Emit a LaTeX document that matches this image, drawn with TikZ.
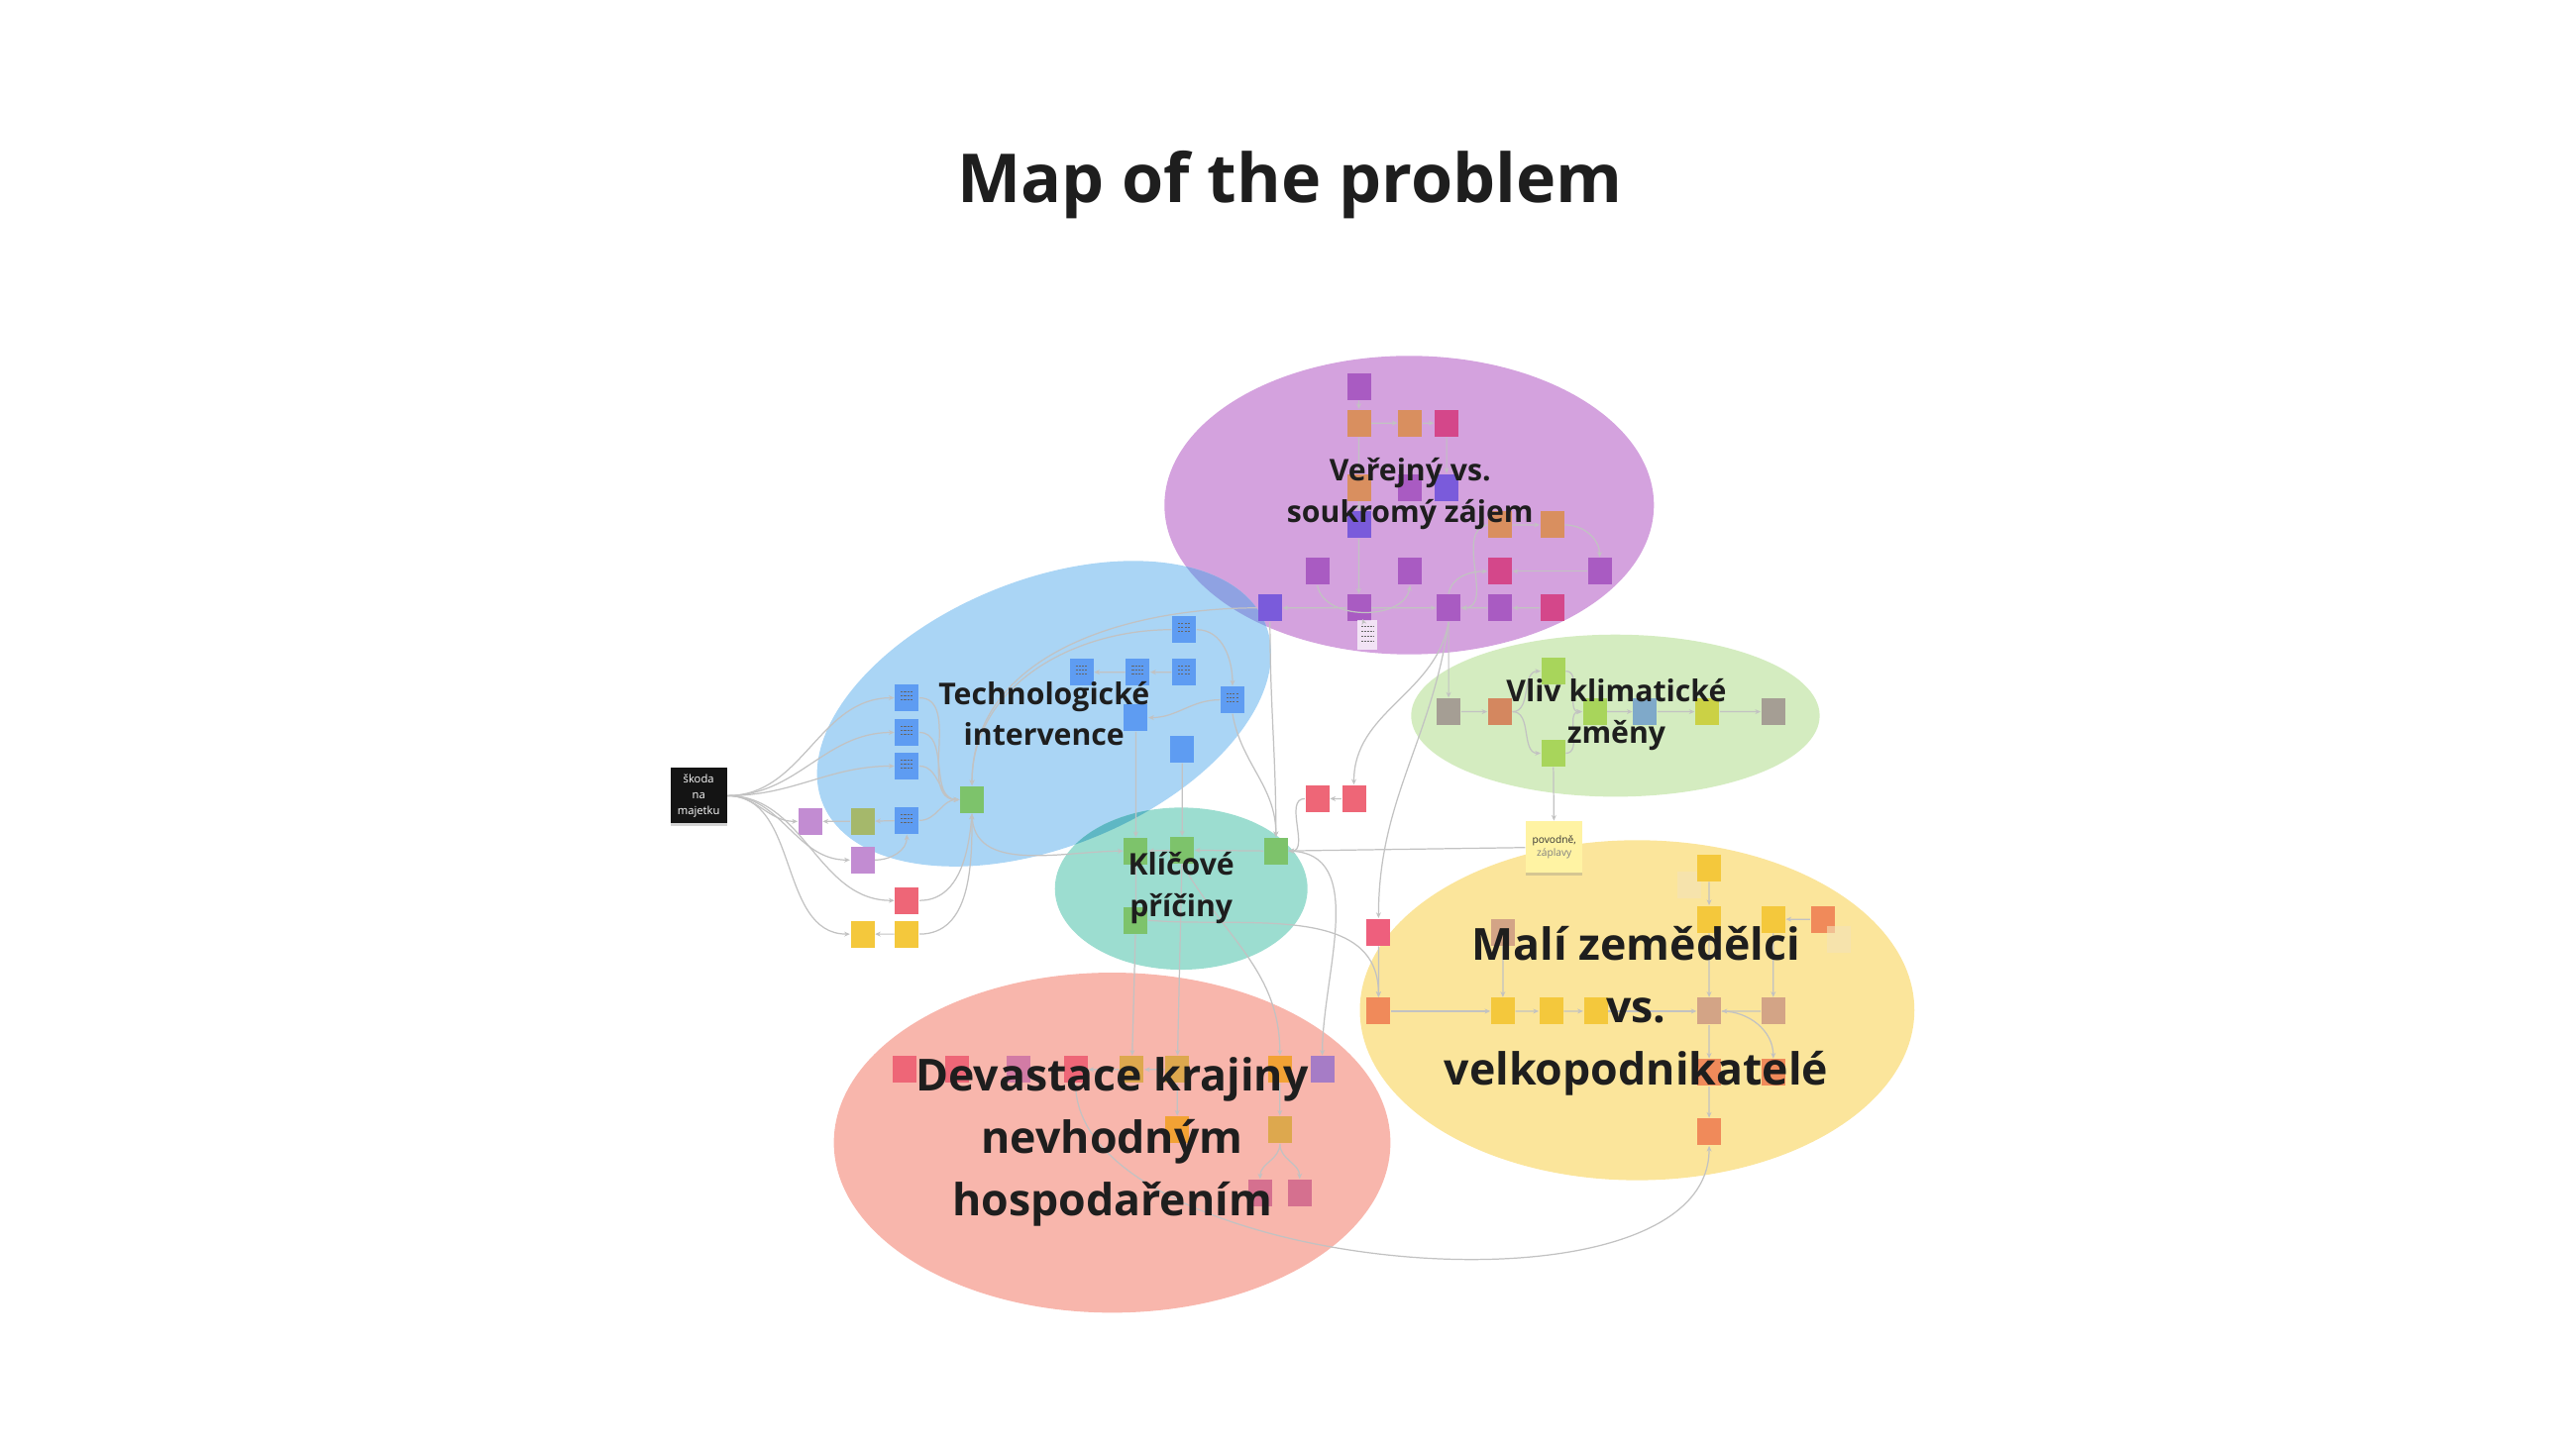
\documentclass[tikz,border=0pt]{standalone}
\usepackage{fontspec}
\setmainfont{Open Sans}
\usetikzlibrary{arrows.meta,shadows}

\definecolor{ink}{HTML}{1E1E1E}
\definecolor{wirec}{HTML}{C2C2C2}
\definecolor{ovpurple}{HTML}{D4A2DE}
\definecolor{ovblue}{HTML}{AAD5F5}
\definecolor{ovgreen}{HTML}{D4ECC0}
\definecolor{ovteal}{HTML}{9CDDD0}
\definecolor{ovsalmon}{HTML}{F8B6AC}
\definecolor{ovyellow}{HTML}{FBE59B}
\definecolor{ovpurpleblue}{HTML}{8FA2E2}
\definecolor{ovtealblue}{HTML}{5EB7C4}
\definecolor{sqpurple}{HTML}{A95BC2}
\definecolor{sqorange}{HTML}{D98F5F}
\definecolor{sqmagenta}{HTML}{D4478A}
\definecolor{sqviolet}{HTML}{7A5BDB}
\definecolor{sqblue}{HTML}{5E9CF2}
\definecolor{sqgreen}{HTML}{7DC36B}
\definecolor{sqlilac}{HTML}{C28CD2}
\definecolor{sqolive}{HTML}{A5B86B}
\definecolor{sqred}{HTML}{EE6677}
\definecolor{sqyellow}{HTML}{F4C83C}
\definecolor{sqlime}{HTML}{A8D55B}
\definecolor{sqgray}{HTML}{A59E94}
\definecolor{sqbrown}{HTML}{D4875F}
\definecolor{sqsteel}{HTML}{7FA9C9}
\definecolor{sqchart}{HTML}{CBD145}
\definecolor{sqtan}{HTML}{D3A486}
\definecolor{sqcoral}{HTML}{F08A5A}
\definecolor{sqpinkred}{HTML}{EE5F7D}
\definecolor{sqmauve}{HTML}{D27BA5}
\definecolor{sqgold}{HTML}{DDA84E}
\definecolor{sqamber}{HTML}{F2A234}
\definecolor{sqplum}{HTML}{A67CC6}
\definecolor{sqrose}{HTML}{D5708F}
\definecolor{stickyc}{HTML}{FFF3A3}
\definecolor{ghostc}{HTML}{F3E3B8}

\tikzset{
  sq/.style={rectangle, inner sep=0pt, minimum width=0.24cm, minimum height=0.27cm, fill=#1},
  note/.style={sq=sqblue, path picture={
      \foreach \yy in {0.06,0.02,-0.02}{
        \draw[black!60, line width=0.25pt, dash pattern=on 0.6pt off 0.3pt]
          ([shift={(-0.06,\yy)}]path picture bounding box.center) -- ++(0.12,0);}}},
  wire/.style={draw=wirec, line width=0.35pt, -{Stealth[length=1.6pt,width=1.4pt]}},
  topic/.style={font=\bfseries\fontsize{8.6}{11.95}\selectfont, text=ink, align=center},
  bigtopic/.style={font=\bfseries\fontsize{12.7}{17.9}\selectfont, text=ink, align=center},
  darkbox/.style={rectangle, fill=black!92, text=white, minimum width=0.57cm, minimum height=0.56cm,
      inner sep=0pt, align=center, font=\fontsize{3.2}{4.6}\selectfont,
      drop shadow={shadow xshift=0pt, shadow yshift=-0.7pt, opacity=0.35}},
  sticky/.style={rectangle, fill=stickyc, minimum width=0.57cm, minimum height=0.52cm,
      inner sep=0pt, align=center, text=black!80, font=\fontsize{2.9}{3.9}\selectfont,
      drop shadow={shadow xshift=0pt, shadow yshift=-0.7pt, opacity=0.3}}
}

\begin{document}
\begin{tikzpicture}
\useasboundingbox (0,0) rectangle (26,-14.63);
\begin{scope}[xscale=0.996, yscale=0.998]

\node[font=\bfseries\fontsize{19.4}{23}\selectfont, text=ink, anchor=base] (title) at (13.07,-2.05) {Map of the problem};

% clusters
\fill[ovgreen] (16.37,-7.24) ellipse [x radius=2.07, y radius=0.82];
\fill[ovpurple] (14.28,-5.11) ellipse [x radius=2.48, y radius=1.51];
\fill[ovblue, rotate around={22:(10.58,-7.22)}] (10.58,-7.22) ellipse [x radius=2.42, y radius=1.35];
\begin{scope}
  \clip (14.28,-5.11) ellipse [x radius=2.48, y radius=1.51];
  \fill[ovpurpleblue, rotate around={22:(10.58,-7.22)}] (10.58,-7.22) ellipse [x radius=2.42, y radius=1.35];
\end{scope}
\fill[ovteal] (11.97,-8.99) ellipse [x radius=1.28, y radius=0.82];
\begin{scope}
  \clip (11.97,-8.99) ellipse [x radius=1.28, y radius=0.82];
  \fill[ovtealblue, rotate around={22:(10.58,-7.22)}] (10.58,-7.22) ellipse [x radius=2.42, y radius=1.35];
\end{scope}
\fill[ovyellow] (16.59,-10.22) ellipse [x radius=2.81, y radius=1.72];
\fill[ovsalmon] (11.27,-11.56) ellipse [x radius=2.82, y radius=1.72];

% public vs private
\node[sq=sqpurple] (p1) at (13.77,-3.91) {};
\node[sq=sqorange] (p2) at (13.77,-4.28) {};
\node[sq=sqorange] (p3) at (14.29,-4.28) {};
\node[sq=sqmagenta] (p4) at (14.66,-4.28) {};
\node[sq=sqorange] (p5) at (13.77,-4.93) {};
\node[sq=sqpurple] (p6) at (14.29,-4.93) {};
\node[sq=sqviolet] (p7) at (14.66,-4.93) {};
\node[sq=sqviolet] (p8) at (13.77,-5.31) {};
\node[sq=sqorange] (p9) at (15.20,-5.31) {};
\node[sq=sqorange] (p10) at (15.73,-5.31) {};
\node[sq=sqpurple] (p11) at (13.35,-5.78) {};
\node[sq=sqpurple] (p12) at (14.29,-5.78) {};
\node[sq=sqmagenta] (p13) at (15.20,-5.78) {};
\node[sq=sqpurple] (p14) at (16.21,-5.78) {};
\node[sq=sqviolet] (p15) at (12.87,-6.15) {};
\node[sq=sqpurple] (p16) at (13.77,-6.15) {};
\node[sq=sqpurple] (p17) at (14.68,-6.15) {};
\node[sq=sqpurple] (p18) at (15.20,-6.15) {};
\node[sq=sqmagenta] (p19) at (15.73,-6.15) {};
\node[sq=white, minimum width=0.2cm, minimum height=0.3cm, fill opacity=0.7, path picture={
    \foreach \yy in {0.08,0.03,-0.02,-0.07}{
      \draw[black!60, line width=0.2pt, dash pattern=on 0.5pt off 0.3pt]
        ([shift={(-0.06,\yy)}]path picture bounding box.center) -- ++(0.12,0);}}] (pnote) at (13.86,-6.42) {};

% technology
\node[note] (t1) at (12.00,-6.37) {};
\node[note] (t2) at (10.96,-6.80) {};
\node[note] (t3) at (11.53,-6.80) {};
\node[note] (t4) at (12.00,-6.80) {};
\node[note] (t5) at (12.49,-7.08) {};
\node[sq=sqblue] (t6) at (11.51,-7.26) {};
\node[sq=sqblue] (t7) at (11.98,-7.58) {};
\node[note] (t8) at (9.19,-7.06) {};
\node[note] (t9) at (9.19,-7.41) {};
\node[note] (t10) at (9.19,-7.75) {};
\node[note] (t11) at (9.19,-8.30) {};
\node[sq=sqgreen] (tg) at (9.85,-8.09) {};
\node[sq=sqlilac] (tp1) at (8.21,-8.31) {};
\node[sq=sqolive] (to) at (8.74,-8.31) {};
\node[sq=sqlilac] (tp2) at (8.74,-8.70) {};
\node[sq=sqred] (td) at (9.19,-9.11) {};
\node[sq=sqyellow] (ty1) at (8.74,-9.45) {};
\node[sq=sqyellow] (ty2) at (9.19,-9.45) {};
\node[darkbox] (bb) at (7.08,-8.05) {škoda\\na\\majetku};

% key causes
\node[sq=sqgreen] (k1) at (11.51,-8.61) {};
\node[sq=sqgreen] (k2) at (11.98,-8.60) {};
\node[sq=sqgreen] (k3) at (12.93,-8.61) {};
\node[sq=sqgreen] (k4) at (11.51,-9.31) {};
\node[sq=sqred] (rp1) at (13.35,-8.08) {};
\node[sq=sqred] (rp2) at (13.72,-8.08) {};

% climate
\node[sq=sqlime] (g1) at (15.74,-6.79) {};
\node[sq=sqgray] (g2) at (14.68,-7.20) {};
\node[sq=sqbrown] (g3) at (15.20,-7.20) {};
\node[sq=sqlime] (g4) at (16.16,-7.20) {};
\node[sq=sqsteel] (g5) at (16.67,-7.20) {};
\node[sq=sqchart] (g6) at (17.30,-7.20) {};
\node[sq=sqgray] (g7) at (17.97,-7.20) {};
\node[sq=sqlime] (g8) at (15.74,-7.62) {};
\node[sticky] (pov) at (15.75,-8.57) {povodně,\\\textcolor{black!50}{záplavy}};

% small vs large farmers
\node[sq=ghostc, fill opacity=0.6] (yg1) at (17.12,-8.95) {};
\node[sq=sqyellow] (y1) at (17.32,-8.78) {};
\node[sq=sqyellow] (y2) at (17.32,-9.30) {};
\node[sq=sqyellow] (y3) at (17.97,-9.30) {};
\node[sq=sqcoral] (y4) at (18.47,-9.30) {};
\node[sq=ghostc, fill opacity=0.6] (yg2) at (18.63,-9.50) {};
\node[sq=sqpinkred] (yr) at (13.97,-9.43) {};
\node[sq=sqtan] (yb1) at (15.23,-9.43) {};
\node[sq=sqcoral] (yo1) at (13.97,-10.23) {};
\node[sq=sqyellow] (y5) at (15.23,-10.23) {};
\node[sq=sqyellow] (y6) at (15.72,-10.23) {};
\node[sq=sqyellow] (y7) at (16.17,-10.23) {};
\node[sq=sqtan] (yb2) at (17.32,-10.23) {};
\node[sq=sqtan] (yb3) at (17.97,-10.23) {};
\node[sq=sqcoral] (yo2) at (17.32,-10.85) {};
\node[sq=sqcoral] (yo3) at (17.97,-10.85) {};
\node[sq=sqcoral] (yo4) at (17.32,-11.45) {};

% devastation
\node[sq=sqred] (d1) at (9.17,-10.82) {};
\node[sq=sqred] (d2) at (9.70,-10.82) {};
\node[sq=sqmauve] (d3) at (10.32,-10.82) {};
\node[sq=sqred] (d4) at (10.90,-10.82) {};
\node[sq=sqgold] (d5) at (11.47,-10.82) {};
\node[sq=sqgold] (d6) at (11.93,-10.82) {};
\node[sq=sqamber] (d7) at (12.97,-10.82) {};
\node[sq=sqplum] (d8) at (13.40,-10.82) {};
\node[sq=sqamber] (d9) at (11.93,-11.43) {};
\node[sq=sqgold] (d10) at (12.97,-11.43) {};
\node[sq=sqrose] (d11) at (12.77,-12.07) {};
\node[sq=sqrose] (d12) at (13.17,-12.07) {};

% links
\draw[wire] (p1) -- (p2);
\draw[wire] (p2) -- (p5);
\draw[wire] (p5) -- (p8);
\draw[wire] (p8) -- (p16);
\draw[wire] (p16) -- (pnote);
\draw[wire] (p2) -- (p3);
\draw[wire] (p3) -- (p4);
\draw[wire] (p4) -- (p7);
\draw[wire] (p16) -- (p15);
\draw[wire] (p16) -- (p17);
\draw[wire] (p18) -- (p17);
\draw[wire] (p19) -- (p18);
\draw[wire] (p14) -- (p13);
\draw[wire] (p9) -- (p10);
\draw[wire] (p11.south) to[out=-80,in=-100] (p12.south);
\draw[wire] (p17.north) to[out=80,in=180] (p13.west);
\draw[wire] (p10.east) to[out=0,in=90] (p14.north);
\draw[wire] (p9.west) to[out=190,in=0] (p17.east);
\draw[wire] (p17) -- (g2);
\draw[wire] (p15.south) to[out=-90,in=90] (k3.north);
\draw[wire] (p15.west) to[out=180,in=90] (tg.north);
\draw[wire] (p17.south) to[out=-100,in=90] (rp2.north);
\draw[wire] (p17.south) to[out=-98,in=90] (yr.north);

\draw[wire] (t3) -- (t2);
\draw[wire] (t4) -- (t3);
\draw[wire] (t1.west) to[out=180,in=90] (tg.north);
\draw[wire] (t1.east) to[out=0,in=90] (t5.north);
\draw[wire] (t5.west) to[out=180,in=0] (t6.east);
\draw[wire] (t5.south) to[out=-80,in=90] (k3.north);
\draw[wire] (t6) -- (k1);
\draw[wire] (t7) -- (k2);
\draw[wire] (bb.east) to[out=0,in=180] (t8.west);
\draw[wire] (bb.east) to[out=0,in=180] (t9.west);
\draw[wire] (bb.east) to[out=0,in=180] (t10.west);
\draw[wire] (bb.east) to[out=0,in=180] (tp1.west);
\draw[wire] (bb.east) to[out=0,in=180] (tp2.west);
\draw[wire] (bb.east) to[out=0,in=180] (td.west);
\draw[wire] (bb.east) to[out=0,in=180] (ty1.west);
\draw[wire] (to) -- (tp1);
\draw[wire] (t11) -- (to);
\draw[wire] (t8.east) to[out=0,in=180] (tg.west);
\draw[wire] (t9.east) to[out=0,in=180] (tg.west);
\draw[wire] (t10.east) to[out=0,in=180] (tg.west);
\draw[wire] (t11.east) to[out=0,in=180] (tg.west);
\draw[wire] (tp2.east) to[out=0,in=-90] (t11.south);
\draw[wire] (td.east) to[out=0,in=-95] (tg.south);
\draw[wire] (ty2) -- (ty1);
\draw[wire] (ty2.east) to[out=0,in=-90] (tg.south);
\draw[wire] (tg.south) to[out=-90,in=180] (k1.west);

\draw[wire] (k2) -- (k1);
\draw[wire] (k3) -- (k2);
\draw[wire] (pov) -- (k3);
\draw[wire] (k1) -- (k4);
\draw[wire] (k4) -- (d5);
\draw[wire] (k2) -- (d6);
\draw[wire] (rp2) -- (rp1);
\draw[wire] (rp1.west) to[out=180,in=0] (k3.east);
\draw[wire] (k3.east) to[out=0,in=90] (d8.north);
\draw[wire] (k2.south) to[out=-60,in=90] (d7.north);
\draw[wire] (k4.east) to[out=-5,in=90] (yo1.north);
\draw[wire] (yr) -- (yo1);

\draw[wire] (d5) -- (d4);
\draw[wire] (d6) -- (d5);
\draw[wire] (d6) -- (d9);
\draw[wire] (d7) -- (d10);
\draw[wire] (d10.south) to[out=-90,in=90] (d11.north);
\draw[wire] (d10.south) to[out=-90,in=90] (d12.north);
\draw[wire] (d4.south) to[out=-90,in=-90,looseness=0.75] (yo4.south);

\draw[wire] (g2) -- (g3);
\draw[wire] (g3.east) to[out=0,in=180] (g1.west);
\draw[wire] (g3.east) to[out=0,in=180] (g8.west);
\draw[wire] (g1.east) to[out=0,in=180] (g4.west);
\draw[wire] (g8.east) to[out=0,in=180] (g4.west);
\draw[wire] (g4) -- (g5);
\draw[wire] (g5) -- (g6);
\draw[wire] (g6) -- (g7);
\draw[wire] (g8) -- (pov);

\draw[wire] (y1) -- (y2);
\draw[wire] (y2) -- (yb2);
\draw[wire] (yb2) -- (yo2);
\draw[wire] (yo2) -- (yo4);
\draw[wire] (y4) -- (y3);
\draw[wire] (y3) -- (yb3);
\draw[wire] (yb3) -- (yb2);
\draw[wire] (yb2.east) to[out=0,in=90] (yo3.north);
\draw[wire] (yo1) -- (y5);
\draw[wire] (y5) -- (y6);
\draw[wire] (y6) -- (y7);
\draw[wire] (y7) -- (yb2);
\draw[wire] (yb1) -- (y5);

% cluster titles
\node[topic] (lv) at (14.29,-5.00) {Veřejný vs.\\soukromý zájem};
\node[topic] (lt) at (10.58,-7.22) {Technologické\\intervence};
\node[topic] (lk) at (16.38,-7.23) {Vliv klimatické\\změny};
\node[topic] (lc) at (11.97,-8.98) {Klíčové\\příčiny};
\node[bigtopic] (ld) at (11.27,-11.55) {Devastace krajiny\\nevhodným\\hospodařením};
\node[bigtopic] (lm) at (16.58,-10.23) {Malí zemědělci\\vs.\\velkopodnikatelé};
\end{scope}
\end{tikzpicture}
\end{document}
